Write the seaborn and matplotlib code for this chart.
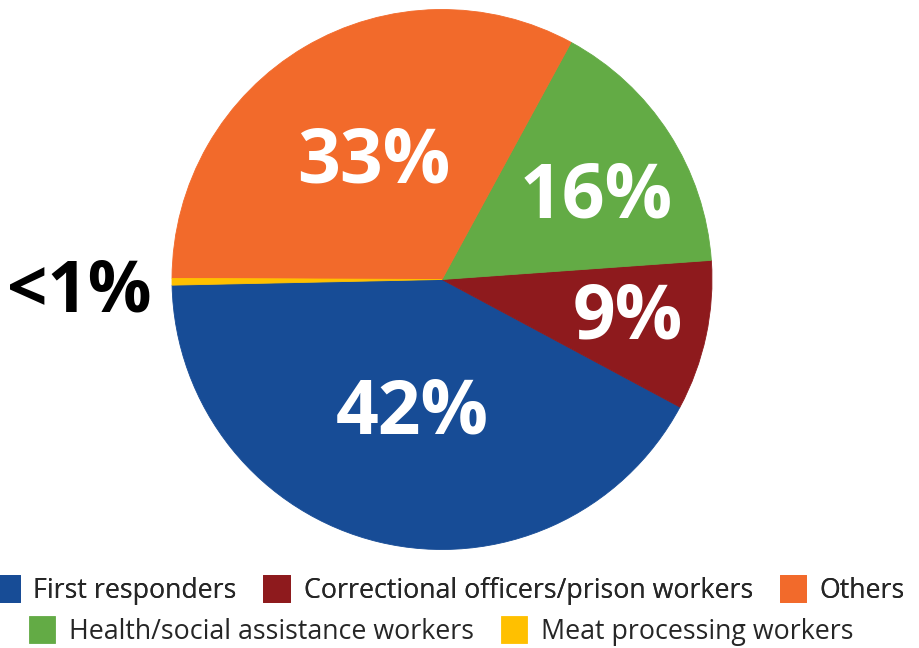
import matplotlib
matplotlib.use("Agg")
import matplotlib.pyplot as plt
import seaborn as sns

# ---- data ----
categories = ["First responders", "Correctional officers/prison workers",
              "Health/social assistance workers", "Others", "Meat processing workers"]
shares = [42, 9, 16, 33, 0.4]
slice_labels = ["42%", "9%", "16%", "33%", "<1%"]
colors = ["#174C96", "#8E1A1D", "#63AB45", "#F26A2B", "#FFC000"]

sns.set_theme(style="white")
plt.rcParams['font.family'] = ['Open Sans', 'DejaVu Sans']

fig = plt.figure(figsize=(9.2, 6.48), dpi=100)
ax = fig.add_axes([172/920, (648-279.5-270)/648, 540/920, 540/648])

wedges, _ = ax.pie(shares, colors=sns.color_palette(colors), startangle=181.2,
                   counterclock=True, radius=1,
                   wedgeprops=dict(linewidth=0.6))
for w in wedges:
    w.set_edgecolor(w.get_facecolor())
ax.set_xlim(-1, 1)
ax.set_ylim(-1, 1)
ax.set_axis_off()

# label positions (data coords, baseline)
label_pos = [(-0.111, -0.569), (0.689, -0.217), (0.570, 0.228), (-0.252, 0.361), (-1.345, -0.120)]
label_colors = ["white", "white", "white", "white", "black"]
label_sizes = [54, 54, 54, 54, 51]
for lab, (x, y), c, s in zip(slice_labels, label_pos, label_colors, label_sizes):
    ax.text(x, y, lab, ha="center", va="baseline", color=c, fontsize=s,
            fontweight="bold", clip_on=False)

# legends: two centered rows
h = dict(zip(categories, wedges))
row1 = ["First responders", "Correctional officers/prison workers", "Others"]
row2 = ["Health/social assistance workers", "Meat processing workers"]
common = dict(loc="center", frameon=False, fontsize=19.3, handlelength=1.0,
              handleheight=1.15, handletextpad=0.5, columnspacing=1.0,
              borderpad=0, borderaxespad=0)
leg1 = fig.legend([h[k] for k in row1], row1, ncol=3,
                  bbox_to_anchor=(449/920, 1-590/648), **common)
fig.add_artist(leg1)
leg2 = fig.legend([h[k] for k in row2], row2, ncol=2,
                  bbox_to_anchor=(441/920, 1-631/648), **common)

fig.savefig("out.png", dpi=100)
